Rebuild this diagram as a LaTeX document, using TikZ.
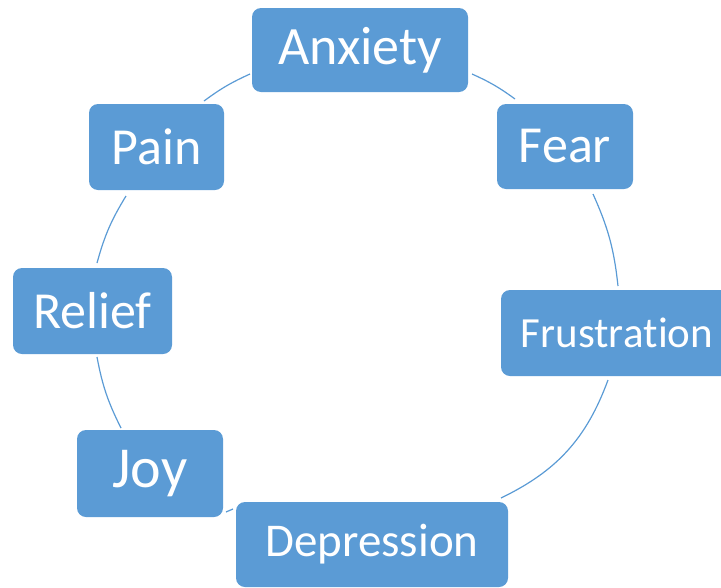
\documentclass[tikz,border=0pt]{standalone}
\usepackage{fontspec}
\setmainfont[Ligatures=NoCommon]{Carlito}
\usepackage{tikz}
\definecolor{boxblue}{RGB}{91,155,213}

\begin{document}
\begin{tikzpicture}[x=1pt, y=1pt,
	emobox/.style={draw=none, fill=boxblue, text=white, rounded corners=9pt,
		inner sep=0pt, align=center},
	ring/.style={draw=boxblue, line width=1.2pt}]
	\useasboundingbox (0,0) rectangle (721,-587);
	\clip (0,0) rectangle (721,-587);

	\node[emobox, minimum width=216, minimum height=84](ANX) at (360,-50)
		{\fontsize{54}{60}\selectfont Anxiety};
	\node[emobox, minimum width=136, minimum height=85](FEAR) at (565,-146.5)
		{\fontsize{52}{60}\selectfont Fear};
	\node[emobox, minimum width=232, minimum height=86](FRU) at (617,-333)
		{\fontsize{43}{50}\selectfont Frustra\kern0pt tion};
	\node[emobox, minimum width=272, minimum height=85](DEP) at (372,-544.5)
		{\fontsize{47}{55}\selectfont Depression};
	\node[emobox, minimum width=146, minimum height=87](JOY) at (150,-473.5)
		{\fontsize{58}{65}\selectfont Joy};
	\node[emobox, minimum width=159, minimum height=86](REL) at (92.5,-311)
		{\fontsize{52}{60}\selectfont Relief};
	\node[emobox, minimum width=135, minimum height=86](PAIN) at (156.5,-147)
		{\fontsize{52}{60}\selectfont Pain};

	% arc ends
	\coordinate (P1) at (204,-101);
	\coordinate (A1) at (250,-74);
	\coordinate (A2) at (472,-74);
	\coordinate (F1) at (515,-99);
	\coordinate (F2) at (593,-194);
	\coordinate (FR1) at (618,-286);
	\coordinate (FR2) at (608,-380);
	\coordinate (D1) at (501,-498);
	\coordinate (D2) at (233,-509);
	\coordinate (J1) at (226,-512);
	\coordinate (J2) at (121,-428);
	\coordinate (R1) at (97,-357);
	\coordinate (R2) at (97,-263);
	\coordinate (P2) at (126,-196);

	\draw[ring] (P1) to[bend left=6] (A1);
	\draw[ring] (A2) to[bend left=6] (F1);
	\draw[ring] (F2) to[bend left=9] (FR1);
	\draw[ring] (FR2) to[bend left=22] (D1);
	\draw[ring] (D2) -- (J1);
	\draw[ring] (J2) to[bend left=8] (R1);
	\draw[ring] (R2) to[bend left=8] (P2);
\end{tikzpicture}
\end{document}
